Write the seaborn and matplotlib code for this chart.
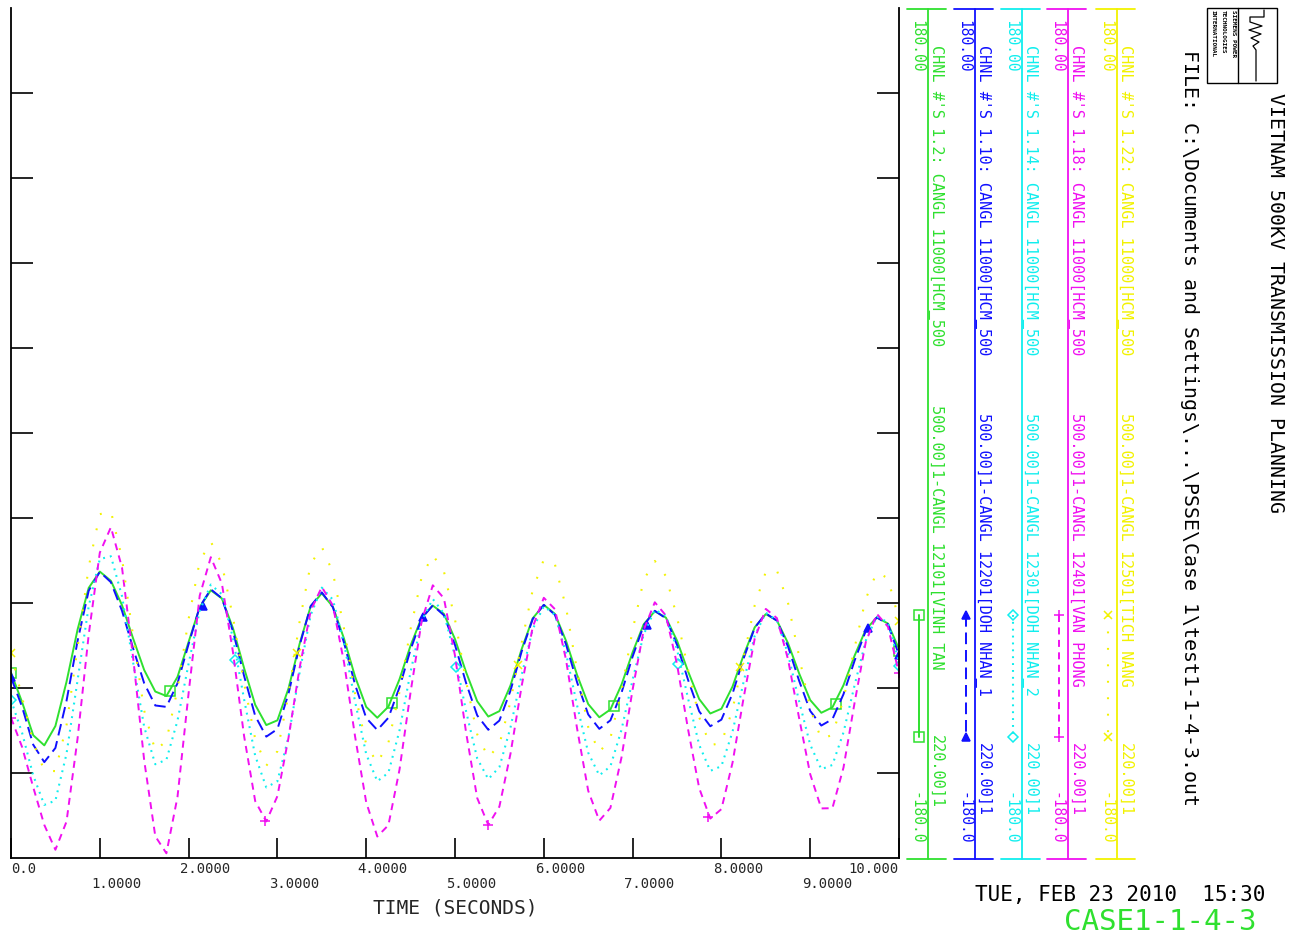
import numpy as np
import pandas as pd
import matplotlib.pyplot as plt
import seaborn as sns
import matplotlib.transforms as mtransforms
from matplotlib.lines import Line2D
from matplotlib.patches import Rectangle

# ---------------- data ----------------
# samples every 0.125 s, angle differences in degrees
time_s = np.linspace(0, 10, 81)

ang_vinh_tan = [
    -101.5, -114.0, -128.0, -132.3, -124.1, -105.4, -83.2, -65.6, -58.7,
    -62.6, -72.9, -87.0, -100.4, -109.5, -111.4, -103.3, -88.5, -73.8, -66.6,
    -70.1, -82.7, -99.6, -115.1, -123.7, -121.7, -108.2, -89.3, -73.4, -67.9,
    -73.6, -87.1, -103.2, -116.0, -120.6, -115.9, -104.3, -90.0, -78.1, -73.1,
    -76.6, -87.3, -101.3, -113.6, -120.1, -117.8, -106.9, -91.6, -78.5, -72.8,
    -76.6, -88.0, -102.5, -114.8, -120.4, -117.1, -106.6, -92.9, -81.0, -75.5,
    -78.2, -87.9, -101.0, -112.7, -118.8, -116.8, -107.4, -94.1, -82.3, -76.7,
    -79.4, -89.0, -101.8, -113.1, -118.5, -116.2, -106.8, -94.3, -83.3, -78.1,
    -80.7, -91.5]

ang_doh_nhan_1 = [
    -103.5, -116.0, -132.0, -139.4, -133.4, -113.5, -88.0, -66.8, -58.8,
    -63.2, -75.3, -91.2, -106.0, -115.4, -116.0, -106.0, -89.4, -73.6, -66.2,
    -70.0, -84.0, -102.9, -119.8, -128.6, -125.4, -110.4, -90.0, -73.3, -67.5,
    -73.8, -88.8, -106.6, -120.7, -125.8, -120.6, -107.7, -91.7, -78.5, -73.0,
    -77.2, -89.8, -105.9, -119.6, -125.7, -121.8, -109.1, -92.6, -78.8, -72.8,
    -77.0, -89.5, -105.6, -119.2, -125.3, -121.7, -110.0, -94.7, -81.5, -75.3,
    -78.5, -89.7, -104.6, -117.9, -124.2, -121.4, -110.4, -95.5, -82.5, -76.4,
    -79.5, -90.4, -104.9, -117.7, -123.9, -121.2, -110.6, -96.4, -83.9, -78.1,
    -81.0, -94.0]

ang_doh_nhan_2 = [
    -113.1, -127.0, -145.0, -157.5, -155.7, -135.9, -104.6, -73.4, -53.4,
    -52.2, -69.1, -97.1, -124.5, -140.3, -138.4, -121.8, -97.7, -75.3, -64.2,
    -68.3, -86.9, -112.8, -136.7, -150.1, -147.5, -128.7, -101.5, -77.1, -65.5,
    -70.6, -89.0, -113.8, -136.0, -147.5, -143.9, -126.0, -101.1, -79.6, -70.3,
    -76.4, -94.6, -117.9, -137.8, -146.6, -141.5, -124.7, -102.6, -83.1, -73.4,
    -77.0, -93.2, -115.4, -135.4, -145.0, -141.2, -125.7, -104.5, -85.3, -74.9,
    -77.3, -91.6, -112.5, -132.1, -143.1, -141.1, -126.6, -105.4, -85.9, -76.1,
    -79.3, -93.6, -113.6, -132.0, -142.4, -140.6, -126.8, -106.8, -88.0, -77.7,
    -80.2, -97.0]

ang_van_phong = [
    -120.6, -133.0, -150.0, -166.0, -176.5, -164.6, -129.3, -85.4, -50.7,
    -39.9, -57.0, -95.0, -138.7, -170.8, -178.0, -154.1, -110.2, -68.9, -52.6,
    -63.8, -92.9, -128.4, -155.9, -164.5, -153.8, -129.1, -99.5, -75.3, -65.2,
    -73.1, -97.1, -128.6, -156.4, -170.9, -166.1, -142.6, -109.7, -79.6, -64.5,
    -70.0, -94.3, -126.9, -154.6, -166.0, -158.2, -135.8, -107.3, -82.2, -69.8,
    -74.6, -96.0, -125.2, -151.5, -164.2, -158.8, -137.4, -108.7, -83.4, -71.7,
    -77.3, -97.9, -125.6, -150.4, -163.3, -159.3, -139.7, -112.2, -87.1, -74.5,
    -78.4, -95.8, -120.7, -144.5, -159.0, -158.9, -141.7, -114.2, -88.7, -76.6,
    -82.0, -101.8]

ang_tich_nang = [
    -93.0, -112.0, -131.0, -143.0, -143.2, -123.8, -90.8, -56.7, -34.4,
    -33.1, -53.1, -86.0, -117.6, -134.6, -130.3, -108.5, -78.8, -54.4, -46.0,
    -55.5, -78.1, -106.0, -129.6, -140.9, -134.8, -110.7, -79.9, -55.5, -48.2,
    -59.1, -82.8, -110.5, -131.9, -139.8, -131.2, -109.6, -83.0, -60.9, -51.7,
    -58.6, -79.0, -105.2, -127.6, -137.5, -131.9, -113.7, -89.0, -66.5, -53.6,
    -55.6, -73.8, -100.6, -124.5, -135.3, -129.2, -109.2, -83.5, -62.2, -54.2,
    -60.6, -77.9, -100.2, -120.4, -132.2, -131.3, -117.2, -95.1, -73.0, -58.8,
    -58.2, -71.9, -94.6, -116.8, -129.7, -127.8, -112.8, -90.9, -70.3, -59.0,
    -61.5, -79.2]

# symbols drawn on each curve
sym_t_vinh_tan = [0, 1.79, 4.29, 6.79, 9.29, 10]
sym_v_vinh_tan = [-101.5, -109.4, -114.2, -115.5, -114.8, -92.3]
sym_t_doh_nhan_1 = [0, 2.16, 4.64, 7.16, 9.65, 10]
sym_v_doh_nhan_1 = [-103.5, -73.3, -78.1, -81.3, -82.7, -94.0]
sym_t_doh_nhan_2 = [0, 2.52, 5.01, 7.51, 10]
sym_v_doh_nhan_2 = [-113.1, -96.0, -99.0, -98.0, -98.5]
sym_t_van_phong = [0, 2.86, 5.37, 7.85, 10]
sym_v_van_phong = [-120.6, -164.2, -166.0, -162.7, -101.5]
sym_t_tich_nang = [0, 3.22, 5.71, 8.21, 10]
sym_v_tich_nang = [-93.0, -93.0, -98.3, -99.0, -79.5]

x_ticks = [0, 1, 2, 3, 4, 5, 6, 7, 8, 9, 10]
x_tick_labels = ['0.0', '1.0000', '2.0000', '3.0000', '4.0000', '5.0000',
                 '6.0000', '7.0000', '8.0000', '9.0000', '10.000']
y_ticks = [-144, -108, -72, -36, 0, 36, 72, 108, 144]

legend_p1 = ["CHNL #'S 1.2: CANGL 11000[HCM_500",
             "CHNL #'S 1.10: CANGL 11000[HCM_500",
             "CHNL #'S 1.14: CANGL 11000[HCM_500",
             "CHNL #'S 1.18: CANGL 11000[HCM_500",
             "CHNL #'S 1.22: CANGL 11000[HCM_500"]
legend_p2 = ["500.00]1-CANGL 12101[VINH TAN",
             "500.00]1-CANGL 12201[DOH NHAN_1",
             "500.00]1-CANGL 12301[DOH NHAN_2",
             "500.00]1-CANGL 12401[VAN PHONG",
             "500.00]1-CANGL 12501[TICH NANG"]
legend_p3 = ["220.00]1"] * 5

# ---------------- style ----------------
GREEN, BLUE, CYAN, MAGENTA, YELLOW = "#2fe02f", "#1010ff", "#10eeee", "#f010f0", "#f2f200"

series = [
    (ang_vinh_tan, sym_t_vinh_tan, sym_v_vinh_tan, GREEN, '-', 1.4, 's', 'none', 6.5),
    (ang_doh_nhan_1, sym_t_doh_nhan_1, sym_v_doh_nhan_1, BLUE, (0, (6, 3)), 1.4, '^', BLUE, 6),
    (ang_doh_nhan_2, sym_t_doh_nhan_2, sym_v_doh_nhan_2, CYAN, (0, (0.9, 2.4)), 1.5, 'D', 'none', 5),
    (ang_van_phong, sym_t_van_phong, sym_v_van_phong, MAGENTA, (0, (3.6, 2.8)), 1.4, '+', MAGENTA, 7),
    (ang_tich_nang, sym_t_tich_nang, sym_v_tich_nang, YELLOW, (0, (0.9, 7)), 1.5, 'x', YELLOW, 6),
]

W, H = 1289, 935


def fx(px):
    return px / W


def fy(py):
    return 1 - py / H


sns.set_style("white")
plt.rcParams['font.family'] = ['DejaVu Sans Mono', 'DejaVu Sans']

fig = plt.figure(figsize=(W / 100, H / 100), dpi=100)
ax = fig.add_axes([fx(11), fy(858), fx(899) - fx(11), fy(8) - fy(858)])

df = pd.DataFrame({'time': time_s})
for i, (vals, st, sv, col, ls, lw, mk, mfc, ms) in enumerate(series):
    df['ch%d' % i] = vals
    sns.lineplot(data=df, x='time', y='ch%d' % i, color=col, linestyle=ls,
                 linewidth=lw, solid_joinstyle='round', dash_joinstyle='round',
                 ax=ax)
    ax.plot(st, sv, linestyle='none', marker=mk, markersize=ms,
            markerfacecolor=mfc, markeredgecolor=col, markeredgewidth=1.1)

ax.set_xlim(0, 10)
ax.set_ylim(-180, 180)
ax.set_xlabel('')
ax.set_ylabel('')
ax.set_xticks(x_ticks)
ax.set_yticks(y_ticks)
ax.tick_params(axis='y', direction='in', length=16, width=1.2, color='black',
               left=True, right=True, labelleft=False, labelright=False)
ax.tick_params(axis='x', direction='in', length=14.5, width=1.2, color='black',
               bottom=True, top=False, labelbottom=False)
for side in ['left', 'bottom', 'right']:
    ax.spines[side].set_color('black')
    ax.spines[side].set_linewidth(1.3)
ax.spines['top'].set_visible(False)

# staggered tick labels
blend = mtransforms.blended_transform_factory(ax.transData, fig.transFigure)
shifted = mtransforms.offset_copy(blend, fig=fig, x=12, y=0, units='points')
for t, lab in zip(x_ticks, x_tick_labels):
    yy = fy(869) if t % 2 == 0 else fy(884)
    if t == 0:
        ax.text(t, yy, lab, transform=blend, ha='left', va='center', fontsize=10)
    elif t == 10:
        ax.text(t, yy, lab, transform=blend, ha='right', va='center', fontsize=10)
    else:
        ax.text(t, yy, lab, transform=shifted, ha='center', va='center', fontsize=10)

fig.text(fx(455), fy(908), 'TIME (SECONDS)', ha='center', va='center', fontsize=14)

# ---------------- channel strip on the right ----------------
col_x = [928, 975, 1022, 1068, 1117]
p2_top = [405, 413, 413, 413, 413]
p3_top = [735, 743, 743, 743, 743]
for i, (vals, st, sv, col, ls, lw, mk, mfc, ms) in enumerate(series):
    vx = col_x[i]
    for xs, ys in [([vx - 21, vx + 18], [9, 9]), ([vx - 21, vx + 18], [859, 859]),
                   ([vx, vx], [9, 859])]:
        fig.add_artist(Line2D([fx(x) for x in xs], [fy(y) for y in ys],
                              transform=fig.transFigure, color=col, lw=1.3))
    fig.text(fx(vx - 11.5), fy(20), '180.00', rotation=-90, ha='center', va='top',
             color=col, fontsize=10.5)
    fig.text(fx(vx - 11.5), fy(845), '-180.0', rotation=-90, ha='center', va='bottom',
             color=col, fontsize=10.5)
    fig.text(fx(vx + 8.5), fy(45), legend_p1[i], rotation=-90, ha='center', va='top',
             color=col, fontsize=11)
    fig.text(fx(vx + 8.5), fy(p2_top[i]), legend_p2[i], rotation=-90, ha='center',
             va='top', color=col, fontsize=11)
    fig.text(fx(vx + 8.5), fy(p3_top[i]), legend_p3[i], rotation=-90, ha='center',
             va='top', color=col, fontsize=11)
    fig.add_artist(Line2D([fx(vx - 9), fx(vx - 9)], [fy(615), fy(737)],
                          transform=fig.transFigure, color=col, linestyle=ls, lw=lw,
                          marker=mk, markersize=ms, markerfacecolor=mfc,
                          markeredgecolor=col, markeredgewidth=1.1))

# ---------------- header / footer text ----------------
fig.text(fx(1275), fy(93), 'VIETNAM 500KV TRANSMISSION PLANNING', rotation=-90,
         ha='center', va='top', fontsize=14.3, color='black')
fig.text(fx(1190), fy(50),
         'FILE: C:\\Documents and Settings\\...\\PSSE\\Case 1\\test1-1-4-3.out',
         rotation=-90, ha='center', va='top', fontsize=14.3, color='black')
fig.text(fx(1120), fy(895), 'TUE, FEB 23 2010  15:30', ha='center', va='center',
         fontsize=15, color='black')
fig.text(fx(1160), fy(922), 'CASE1-1-4-3', ha='center', va='center',
         fontsize=21, color=GREEN)

# logo box
fig.add_artist(Rectangle((fx(1207), fy(83)), fx(1277) - fx(1207), fy(8) - fy(83),
                         transform=fig.transFigure, fill=False, edgecolor='black', lw=1))
fig.add_artist(Line2D([fx(1238), fx(1238)], [fy(8), fy(83)],
                      transform=fig.transFigure, color='black', lw=1))
wave_x = [1264, 1264, 1250, 1250, 1262, 1249, 1261, 1251, 1259, 1253, 1256, 1256]
wave_y = [10, 17, 17, 22, 26, 30, 34, 38, 42, 46, 50, 81]
fig.add_artist(Line2D([fx(x) for x in wave_x], [fy(y) for y in wave_y],
                      transform=fig.transFigure, color='black', lw=0.9))
for xx, txt in [(1233, 'SIEMENS POWER'), (1223, 'TECHNOLOGIES'), (1213, 'INTERNATIONAL')]:
    fig.text(fx(xx), fy(10), txt, rotation=-90, ha='center', va='top',
             fontsize=4.3, color='black', fontweight='bold')

fig.savefig('out.png', dpi=100, facecolor='white')
